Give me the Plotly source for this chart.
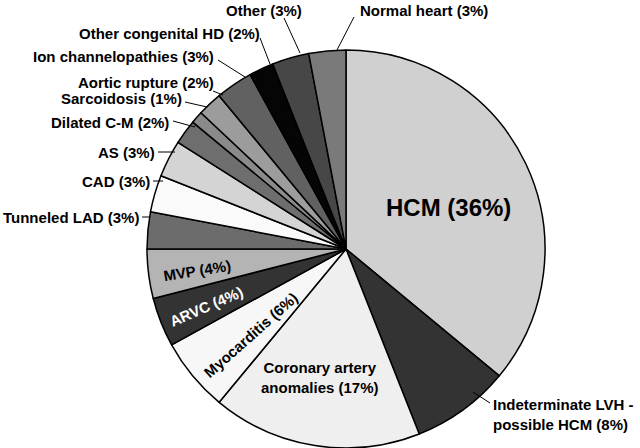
import math
import plotly.graph_objects as go

# ---- data ----
categories = ["HCM", "Indeterminate LVH - possible HCM", "Coronary artery anomalies",
              "Myocarditis", "ARVC", "MVP", "Tunneled LAD", "CAD", "AS", "Dilated C-M",
              "Sarcoidosis", "Aortic rupture", "Ion channelopathies", "Other congenital HD",
              "Other", "Normal heart"]
percentages = [36, 8, 17, 6, 4, 4, 3, 3, 3, 2, 1, 2, 3, 2, 3, 3]
label_texts = ["HCM (36%)", "Indeterminate LVH -<br>possible HCM (8%)",
               "Coronary artery<br>anomalies (17%)", "Myocarditis (6%)", "ARVC (4%)",
               "MVP (4%)", "Tunneled LAD (3%)", "CAD (3%)", "AS (3%)", "Dilated C-M (2%)",
               "Sarcoidosis (1%)", "Aortic rupture (2%)", "Ion channelopathies (3%)",
               "Other congenital HD (2%)", "Other (3%)", "Normal heart (3%)"]

# ---- styles ----
slice_colors = ["#d0d0d0", "#333333", "#efefef", "#f7f7f7", "#333333", "#b4b4b4",
                "#6c6c6c", "#fafafa", "#d4d4d4", "#6e6e6e", "#8a8a8a", "#9c9c9c",
                "#616161", "#050505", "#474747", "#7a7a7a"]

W, H = 640, 448
CX, CY, R = 346, 249, 199

def px(x):
    return x / W

def py(y):
    return 1 - y / H

fig = go.Figure(go.Pie(
    labels=categories, values=percentages, sort=False, direction="clockwise",
    rotation=0, textinfo="none", hoverinfo="label+percent",
    marker=dict(colors=slice_colors, line=dict(color="black", width=1.5)),
    domain=dict(x=[px(CX - R), px(CX + R)], y=[py(CY + R), py(CY - R)]),
    showlegend=False,
))

# mid angles of slices (degrees clockwise from 12 o'clock)
total = sum(percentages)
mids = []
acc = 0
for v in percentages:
    mids.append((acc + v / 2) / total * 360)
    acc += v

FONT = "Liberation Sans, Arial, sans-serif"

# inside labels: (index, x, y, size, color, rotate radially)
inside = [
    (0, 448, 207, 24, "black", False),
    (2, 320, 377, 15, "black", False),
    (3, 250, 335, 15, "black", True),
    (4, 206, 306, 15, "white", True),
    (5, 197, 270, 15, "black", True),
]
annotations = []
for i, x, y, s, c, rot in inside:
    ang = 0
    if rot:
        ang = -(270 - mids[i]) - 2
    annotations.append(dict(
        x=px(x), y=py(y), xref="paper", yref="paper", text=label_texts[i],
        showarrow=False, textangle=ang, xanchor="center", yanchor="middle",
        font=dict(family=FONT, size=s, color=c, weight="bold")))

# outside labels: (index, anchor x, y, xanchor, leader line start, leader line end)
outside = [
    (15, 358, 11, "left", (354, 17), (337, 50)),
    (14, 304, 10, "right", (284, 18), (300, 53)),
    (13, 262, 33, "right", (260, 38), (270, 64)),
    (12, 216, 57, "right", (218, 60), (245, 77)),
    (11, 216, 82, "right", (213, 91), (223, 95)),
    (10, 184, 99, "right", (185, 102), (207, 107)),
    (9, 171, 122, "right", (173, 121), (195, 127)),
    (8, 157, 152, "right", (158, 152), (175, 152)),
    (7, 152, 181, "right", (153, 181), (163, 181)),
    (6, 141, 217, "right", (142, 217), (150, 217)),
]
shapes = []
for i, x, y, xa, p0, p1 in outside:
    annotations.append(dict(
        x=px(x), y=py(y), xref="paper", yref="paper", text=label_texts[i],
        showarrow=False, xanchor=xa, yanchor="middle",
        font=dict(family=FONT, size=15, color="black", weight="bold")))
    shapes.append(dict(type="line", xref="paper", yref="paper",
                       x0=px(p0[0]), y0=py(p0[1]), x1=px(p1[0]), y1=py(p1[1]),
                       line=dict(color="black", width=1)))

# Indeterminate LVH label (two lines, left aligned)
annotations.append(dict(
    x=px(491), y=py(414), xref="paper", yref="paper", text=label_texts[1],
    showarrow=False, xanchor="left", yanchor="middle", align="left",
    font=dict(family=FONT, size=15, color="black", weight="bold")))
shapes.append(dict(type="line", xref="paper", yref="paper",
                   x0=px(473), y0=py(392), x1=px(490), y1=py(403),
                   line=dict(color="black", width=1)))

fig.update_layout(
    width=W, height=H, margin=dict(l=0, r=0, t=0, b=0),
    paper_bgcolor="white", plot_bgcolor="white",
    annotations=annotations, shapes=shapes,
)

fig.write_html("out.html", config={"displayModeBar": False},
               post_script="document.body.style.margin='0';document.body.style.overflow='hidden';")
